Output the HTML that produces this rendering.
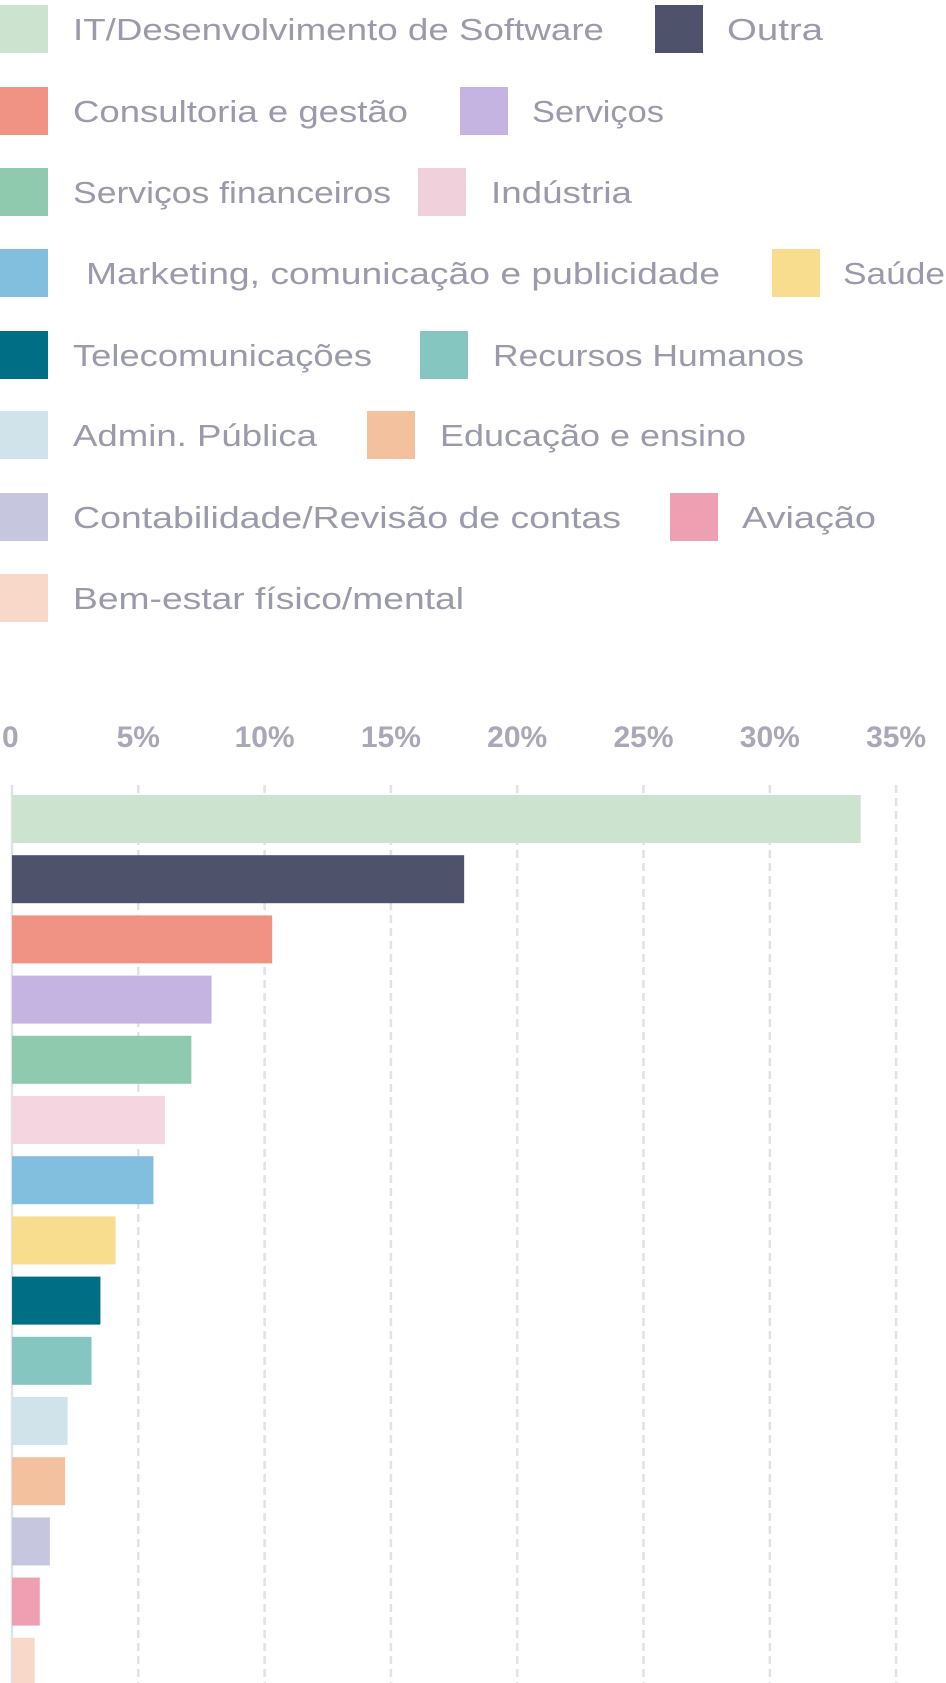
<!DOCTYPE html>
<html><head><meta charset="utf-8"><style>
html,body{margin:0;padding:0;background:#fff;}
svg{display:block;font-family:"Liberation Sans",sans-serif;}
</style></head><body>
<svg id="chart" width="946" height="1683" viewBox="0 0 946 1683" xmlns="http://www.w3.org/2000/svg">
<g id="legend"></g>
<g id="grid"></g>
<g id="ticks"></g>
<g id="bars"></g>
</svg>
<script>
const categories = ["IT/Desenvolvimento de Software","Outra","Consultoria e gestão","Serviços","Serviços financeiros","Indústria","Marketing, comunicação e publicidade","Saúde","Telecomunicações","Recursos Humanos","Admin. Pública","Educação e ensino","Contabilidade/Revisão de contas","Aviação","Bem-estar físico/mental"];
const values = [33.6,17.9,10.3,7.9,7.1,6.05,5.6,4.1,3.5,3.15,2.2,2.1,1.5,1.1,0.9];
const tickValues = [0,5,10,15,20,25,30,35];
const tickLabels = ["0","5%","10%","15%","20%","25%","30%","35%"];
const colors = ["#cce3cf","#4e526b","#f09385","#c5b3e2","#8fcaae","#f5d5df","#82bedd","#f9dd8f","#006f86","#86c6c1","#d0e2ea","#f4c19f","#c6c6df","#ef9fb2","#f8d9c9"];

const NS="http://www.w3.org/2000/svg";
const X0=12, PX_PER_UNIT=126.3/5;
function xScale(v){return X0+v*PX_PER_UNIT;}
function yScale(i){return 795+i*60.2;}

// legend layout (positions only)
const legendLayout=[
 [0,29,73,531],[655,29,727,96],
 [0,111,73,335],[460,111,532,132],
 [0,192,73,318],[418,192,491,141],
 [0,273,86,634],[772,273,843,102],
 [0,355,73,299],[420,355,493,311],
 [0,435,73,244],[367,435,440,306],
 [0,517,73,548],[670,517,742,134],
 [0,598,73,391]];
const legendColors=colors.slice(); legendColors[5]="#f0d0da";
const lg=document.getElementById('legend');
categories.forEach((c,i)=>{
  const [sx,cy,tx,tw]=legendLayout[i];
  const g=document.createElementNS(NS,'g');
  
  
  const r=document.createElementNS(NS,'rect');
  
  
  r.setAttribute('x',sx);r.setAttribute('y',cy-24);r.setAttribute('width',48);r.setAttribute('height',48);
  r.setAttribute('fill',legendColors[i]);
  g.appendChild(r);
  const t=document.createElementNS(NS,'text');
  
  
  t.setAttribute('x',tx);t.setAttribute('y',cy+11);
  t.setAttribute('font-size','31');t.setAttribute('fill','#9a9aac');
  t.setAttribute('textLength',tw);t.setAttribute('lengthAdjust','spacingAndGlyphs');
  t.textContent=c;
  g.appendChild(t);
  lg.appendChild(g);
});

// grid & ticks
const gr=document.getElementById('grid'), tk=document.getElementById('ticks');
tickValues.forEach((v,i)=>{
  const x=xScale(v);
  const l=document.createElementNS(NS,'line');
  
  
  l.setAttribute('x1',x);l.setAttribute('x2',x);l.setAttribute('y1',785);l.setAttribute('y2',1683);
  l.setAttribute('stroke','#e0e2e8');l.setAttribute('stroke-width','2.5');
  if(v!==0) l.setAttribute('stroke-dasharray','8 5');
  gr.appendChild(l);
  const t=document.createElementNS(NS,'text');
  
  
  t.setAttribute('x',v===0?x:x);t.setAttribute('y',747);
  t.setAttribute('text-anchor',v===0?'start':'middle');
  if(v===0) t.setAttribute('x',2);
  t.setAttribute('font-size','30');t.setAttribute('font-weight','bold');t.setAttribute('fill','#a8a8b8');
  t.textContent=tickLabels[i];
  tk.appendChild(t);
});

// bars
const bg=document.getElementById('bars');
values.forEach((v,i)=>{
  const r=document.createElementNS(NS,'rect');
  
  
  r.setAttribute('x',X0);r.setAttribute('y',yScale(i));
  r.setAttribute('width',xScale(v)-X0);r.setAttribute('height',48);
  r.setAttribute('fill',colors[i]);
  const tt=document.createElementNS(NS,'title');tt.textContent=categories[i]+': '+v+'%';
  r.appendChild(tt);
  bg.appendChild(r);
});
</script>
</body></html>
